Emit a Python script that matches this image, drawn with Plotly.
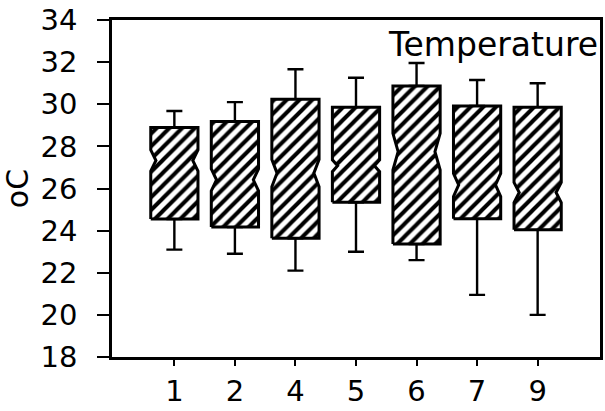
import plotly.graph_objects as go

categories = ["1", "2", "4", "5", "6", "7", "9"]
lower_whisker = [23.1, 22.9, 22.1, 23.0, 22.6, 20.95, 20.0]
q1_values = [24.55, 24.17, 23.64, 25.35, 23.36, 24.56, 24.04]
median_values = [27.33, 26.41, 26.73, 27.08, 27.75, 26.17, 25.81]
q3_values = [28.9, 29.18, 30.24, 29.86, 30.87, 29.92, 29.86]
upper_whisker = [29.68, 30.1, 31.66, 31.26, 31.96, 31.15, 31.0]
notch_half_span = [0.5, 0.52, 0.65, 0.28, 0.87, 0.55, 0.48]

BOX_W = 0.78
NOTCH_W = 0.22
positions = list(range(len(categories)))

fig = go.Figure()

# whiskers (drawn as error bars from the box edges to the fences)
fig.add_trace(go.Scatter(
    x=positions, y=q3_values, mode="markers",
    marker=dict(size=1, opacity=0),
    error_y=dict(type="data", symmetric=False,
                 array=[u - q for u, q in zip(upper_whisker, q3_values)],
                 arrayminus=[0] * len(positions),
                 width=8, thickness=2.4, color="black"),
    hoverinfo="skip", showlegend=False,
))
fig.add_trace(go.Scatter(
    x=positions, y=q1_values, mode="markers",
    marker=dict(size=1, opacity=0),
    error_y=dict(type="data", symmetric=False,
                 array=[0] * len(positions),
                 arrayminus=[q - l for q, l in zip(q1_values, lower_whisker)],
                 width=8, thickness=2.4, color="black"),
    hoverinfo="skip", showlegend=False,
))

# notched, hatched boxes
xs, ys = [], []
hw = BOX_W / 2
for x, q1, m, q3, ns in zip(positions, q1_values, median_values, q3_values, notch_half_span):
    wi = hw * (1 - NOTCH_W)
    pts = [(x - hw, q1), (x - hw, m - ns), (x - wi, m), (x - hw, m + ns), (x - hw, q3),
           (x + hw, q3), (x + hw, m + ns), (x + wi, m), (x + hw, m - ns), (x + hw, q1), (x - hw, q1)]
    for px, py in pts:
        xs.append(px)
        ys.append(py)
    xs.append(None)
    ys.append(None)

fig.add_trace(go.Scatter(
    x=xs, y=ys, mode="lines", fill="toself",
    fillcolor="white",
    fillpattern=dict(shape="/", fgcolor="black", bgcolor="white", fgopacity=1,
                     size=9, solidity=0.45),
    line=dict(width=3, color="black"),
    hoverinfo="skip", showlegend=False,
))

fig.add_annotation(
    text="Temperature", xref="paper", yref="paper",
    x=1.0, y=1.0, xanchor="right", yanchor="top", yshift=-3,
    showarrow=False, font=dict(family="DejaVu Sans", size=33, color="black"),
)

fig.update_layout(
    width=605, height=411,
    margin=dict(l=112, r=5, t=20, b=54),
    paper_bgcolor="white", plot_bgcolor="white",
    font=dict(family="DejaVu Sans", size=29, color="black"),
)

fig.update_xaxes(
    range=[-1.03, 7.03],
    tickmode="array", tickvals=positions, ticktext=categories,
    ticks="outside", ticklen=6, tickwidth=2, tickcolor="black",
    showline=True, linewidth=2.5, linecolor="black", mirror=True,
    showgrid=False, zeroline=False, automargin=False,
)
fig.update_yaxes(
    range=[18, 34], dtick=2, tick0=18,
    ticks="outside", ticklen=12, tickwidth=2, tickcolor="black",
    showline=True, linewidth=2.5, linecolor="black", mirror=True,
    showgrid=False, zeroline=False, automargin=False,
    title=dict(text="oC", standoff=10, font=dict(size=30)),
    ticklabelstandoff=14,
)

fig.write_html("out.html", config={"displayModeBar": False},
               post_script="document.body.style.margin='0';")
